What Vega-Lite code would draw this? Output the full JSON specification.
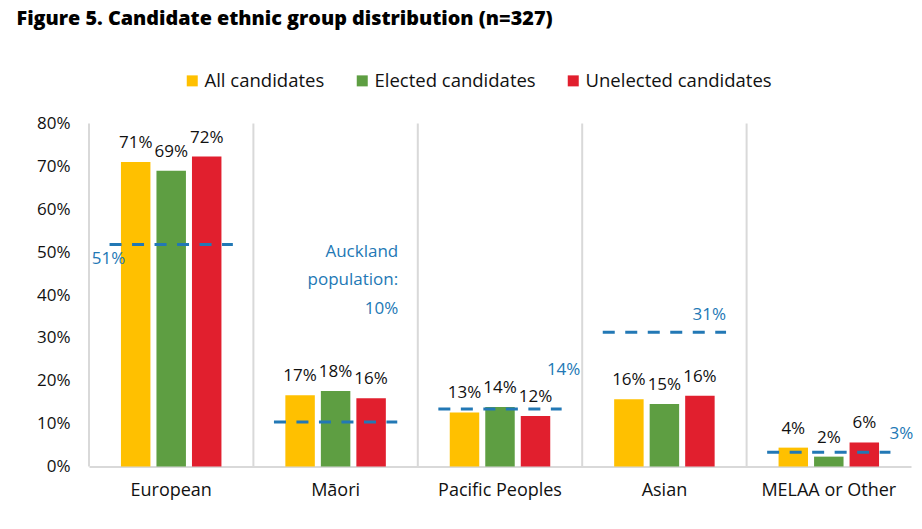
{
  "$schema": "https://vega.github.io/schema/vega-lite/v6.json",
  "description": "Candidate ethnic group distribution",
  "width": 822,
  "height": 343,
  "autosize": {"type": "none"},
  "padding": {"left": 89, "top": 123.5, "right": 11, "bottom": 62.5},
  "title": {
    "text": "Figure 5. Candidate ethnic group distribution (n=327)",
    "anchor": "start",
    "dx": -20,
    "offset": 43,
    "font": "Open Sans",
    "fontSize": 19.8,
    "fontWeight": 800,
    "color": "#000000"
  },
  "datasets": {
    "candidates": [
      {"group": "European", "type": "All candidates", "value": 71.0, "label": "71%"},
      {"group": "European", "type": "Elected candidates", "value": 69.0, "label": "69%"},
      {"group": "European", "type": "Unelected candidates", "value": 72.3, "label": "72%"},
      {"group": "Māori", "type": "All candidates", "value": 16.6, "label": "17%"},
      {"group": "Māori", "type": "Elected candidates", "value": 17.6, "label": "18%"},
      {"group": "Māori", "type": "Unelected candidates", "value": 15.9, "label": "16%"},
      {"group": "Pacific Peoples", "type": "All candidates", "value": 12.6, "label": "13%"},
      {"group": "Pacific Peoples", "type": "Elected candidates", "value": 13.9, "label": "14%"},
      {"group": "Pacific Peoples", "type": "Unelected candidates", "value": 11.8, "label": "12%"},
      {"group": "Asian", "type": "All candidates", "value": 15.7, "label": "16%"},
      {"group": "Asian", "type": "Elected candidates", "value": 14.6, "label": "15%"},
      {"group": "Asian", "type": "Unelected candidates", "value": 16.5, "label": "16%"},
      {"group": "MELAA or Other", "type": "All candidates", "value": 4.4, "label": "4%"},
      {"group": "MELAA or Other", "type": "Elected candidates", "value": 2.3, "label": "2%"},
      {"group": "MELAA or Other", "type": "Unelected candidates", "value": 5.6, "label": "6%"}
    ],
    "population": [
      {"group": "European", "pop": 51.8, "label": "51%"},
      {"group": "Māori", "pop": 10.4, "label": "Auckland|population:|10%"},
      {"group": "Pacific Peoples", "pop": 13.4, "label": "14%"},
      {"group": "Asian", "pop": 31.3, "label": "31%"},
      {"group": "MELAA or Other", "pop": 3.3, "label": "3%"}
    ]
  },
  "encoding": {
    "x": {
      "field": "group",
      "type": "nominal",
      "sort": ["European", "Māori", "Pacific Peoples", "Asian", "MELAA or Other"],
      "scale": {"paddingInner": 0, "paddingOuter": 0},
      "axis": {
        "title": null,
        "labelAngle": 0,
        "labelFont": "Open Sans",
        "labelFontSize": 18,
        "labelColor": "#111111",
        "labelPadding": 15,
        "ticks": false,
        "domainColor": "#d9d9d9",
        "domainWidth": 2,
        "grid": false
      }
    }
  },
  "layer": [
    {
      "data": {"name": "population"},
      "mark": {"type": "rule", "color": "#d9d9d9", "strokeWidth": 2},
      "encoding": {
        "x": {"field": "group", "type": "nominal", "sort": ["European", "Māori", "Pacific Peoples", "Asian", "MELAA or Other"], "bandPosition": 0}
      }
    },
    {
      "data": {"name": "candidates"},
      "mark": {"type": "bar"},
      "encoding": {
        "xOffset": {
          "field": "type",
          "type": "nominal",
          "sort": ["All candidates", "Elected candidates", "Unelected candidates"],
          "scale": {"paddingInner": 0.17, "paddingOuter": 0.9}
        },
        "y": {
          "field": "value",
          "type": "quantitative",
          "scale": {"domain": [0, 80], "nice": false},
          "axis": {
            "title": null,
            "values": [0, 10, 20, 30, 40, 50, 60, 70, 80],
            "labelExpr": "datum.value + '%'",
            "labelFont": "Open Sans",
            "labelFontSize": 17,
            "labelColor": "#111111",
            "labelPadding": 19,
            "ticks": false,
            "domain": false,
            "grid": false
          }
        },
        "color": {
          "field": "type",
          "type": "nominal",
          "scale": {
            "domain": ["All candidates", "Elected candidates", "Unelected candidates"],
            "range": ["#FFC000", "#5E9E42", "#E11F2E"]
          },
          "legend": {
            "title": null,
            "orient": "none",
            "direction": "horizontal",
            "legendX": 94,
            "legendY": -52,
            "symbolType": "square",
            "symbolSize": 121,
            "symbolStrokeWidth": 0,
            "symbolOpacity": 1,
            "labelFont": "Open Sans",
            "labelFontSize": 18.5,
            "labelColor": "#111111",
            "labelOffset": 3,
            "labelLimit": 400,
            "columnPadding": 28
          }
        }
      }
    },
    {
      "data": {"name": "population"},
      "mark": {"type": "rule", "color": "#2278B5", "strokeWidth": 3, "strokeDash": [12, 10.5]},
      "encoding": {
        "x": {"field": "group", "type": "nominal", "sort": ["European", "Māori", "Pacific Peoples", "Asian", "MELAA or Other"], "bandPosition": 0.125},
        "x2": {"field": "group", "bandPosition": 0.875},
        "y": {"field": "pop", "type": "quantitative"}
      }
    },
    {
      "data": {"name": "candidates"},
      "mark": {"type": "text", "baseline": "middle", "dy": -19, "font": "Open Sans", "fontSize": 17, "color": "#111111"},
      "encoding": {
        "xOffset": {
          "field": "type",
          "type": "nominal",
          "sort": ["All candidates", "Elected candidates", "Unelected candidates"],
          "scale": {"paddingInner": 0.17, "paddingOuter": 0.9}
        },
        "y": {"field": "value", "type": "quantitative"},
        "text": {"field": "label"}
      }
    },
    {
      "data": {"name": "population"},
      "transform": [{"filter": "datum.group === 'European'"}],
      "mark": {"type": "text", "align": "center", "baseline": "middle", "dx": -1, "dy": 15, "font": "Open Sans", "fontSize": 17, "color": "#2278B5"},
      "encoding": {
        "x": {"field": "group", "type": "nominal", "sort": ["European", "Māori", "Pacific Peoples", "Asian", "MELAA or Other"], "bandPosition": 0.125},
        "y": {"field": "pop", "type": "quantitative"},
        "text": {"field": "label"}
      }
    },
    {
      "data": {"name": "population"},
      "transform": [{"filter": "datum.group === 'Māori'"}],
      "mark": {"type": "text", "align": "right", "baseline": "middle", "lineBreak": "|", "lineHeight": 28.5, "dx": 1, "dy": -170, "font": "Open Sans", "fontSize": 17, "color": "#2278B5"},
      "encoding": {
        "x": {"field": "group", "type": "nominal", "sort": ["European", "Māori", "Pacific Peoples", "Asian", "MELAA or Other"], "bandPosition": 0.875},
        "y": {"field": "pop", "type": "quantitative"},
        "text": {"field": "label"}
      }
    },
    {
      "data": {"name": "population"},
      "transform": [{"filter": "datum.group === 'Pacific Peoples'"}],
      "mark": {"type": "text", "align": "center", "baseline": "middle", "dx": 2, "dy": -39, "font": "Open Sans", "fontSize": 17, "color": "#2278B5"},
      "encoding": {
        "x": {"field": "group", "type": "nominal", "sort": ["European", "Māori", "Pacific Peoples", "Asian", "MELAA or Other"], "bandPosition": 0.875},
        "y": {"field": "pop", "type": "quantitative"},
        "text": {"field": "label"}
      }
    },
    {
      "data": {"name": "population"},
      "transform": [{"filter": "datum.group === 'Asian'"}],
      "mark": {"type": "text", "align": "right", "baseline": "middle", "dx": 0, "dy": -17, "font": "Open Sans", "fontSize": 17, "color": "#2278B5"},
      "encoding": {
        "x": {"field": "group", "type": "nominal", "sort": ["European", "Māori", "Pacific Peoples", "Asian", "MELAA or Other"], "bandPosition": 0.875},
        "y": {"field": "pop", "type": "quantitative"},
        "text": {"field": "label"}
      }
    },
    {
      "data": {"name": "population"},
      "transform": [{"filter": "datum.group === 'MELAA or Other'"}],
      "mark": {"type": "text", "align": "left", "baseline": "middle", "dx": -1, "dy": -18, "font": "Open Sans", "fontSize": 17, "color": "#2278B5"},
      "encoding": {
        "x": {"field": "group", "type": "nominal", "sort": ["European", "Māori", "Pacific Peoples", "Asian", "MELAA or Other"], "bandPosition": 0.875},
        "y": {"field": "pop", "type": "quantitative"},
        "text": {"field": "label"}
      }
    }
  ],
  "config": {
    "view": {"stroke": null},
    "background": "#ffffff"
  }
}
